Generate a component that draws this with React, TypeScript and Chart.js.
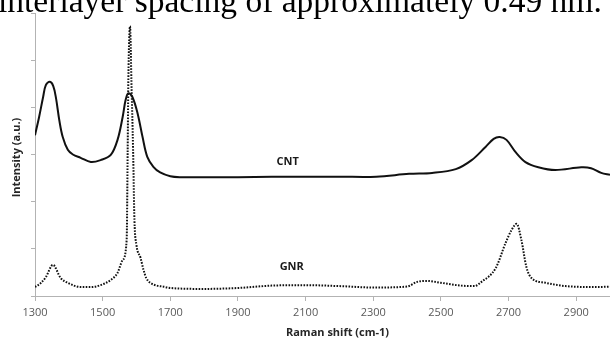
import { useEffect, useRef } from "react";
import { Chart, registerables } from "chart.js";

Chart.register(...registerables);

// Raman shift (cm-1) / intensity (a.u.)
const CNT_X = [1300, 1312, 1324, 1332, 1344, 1354, 1362, 1372, 1382, 1397, 1412, 1435, 1465, 1494, 1524, 1544, 1559, 1568, 1576, 1588, 1603, 1618, 1632, 1650, 1670, 1700, 1729, 1800, 1900, 2000, 2100, 2200, 2309, 2406, 2474, 2544, 2591, 2632, 2656, 2674, 2694, 2721, 2750, 2788, 2838, 2915, 2944, 2974, 3000];
const CNT_Y = [3.41, 3.79, 4.22, 4.47, 4.54, 4.45, 4.2, 3.72, 3.37, 3.1, 3.0, 2.93, 2.84, 2.88, 2.99, 3.31, 3.79, 4.16, 4.3, 4.22, 3.88, 3.37, 2.95, 2.74, 2.62, 2.54, 2.52, 2.52, 2.52, 2.53, 2.53, 2.53, 2.53, 2.59, 2.61, 2.69, 2.88, 3.16, 3.33, 3.37, 3.31, 3.05, 2.84, 2.73, 2.67, 2.73, 2.71, 2.61, 2.57];

const GNR_X = [1300, 1318, 1332, 1353, 1376, 1397, 1435, 1465, 1494, 1524, 1544, 1559, 1571, 1574, 1576, 1581, 1585, 1590, 1594, 1600, 1612, 1621, 1629, 1641, 1685, 1700, 1800, 1900, 2000, 2100, 2200, 2300, 2400, 2430, 2460, 2500, 2560, 2600, 2620, 2662, 2691, 2709, 2724, 2738, 2753, 2768, 2809, 2868, 2965, 3000];
const GNR_Y = [0.19, 0.28, 0.4, 0.66, 0.38, 0.28, 0.19, 0.19, 0.23, 0.34, 0.49, 0.76, 1.19, 3.1, 4.58, 5.72, 4.58, 3.1, 1.61, 1.08, 0.81, 0.55, 0.38, 0.28, 0.19, 0.17, 0.15, 0.17, 0.22, 0.23, 0.21, 0.18, 0.2, 0.3, 0.32, 0.28, 0.22, 0.21, 0.3, 0.59, 1.12, 1.4, 1.53, 1.19, 0.61, 0.38, 0.28, 0.21, 0.19, 0.2];

const X_TICKS = [1300, 1500, 1700, 1900, 2100, 2300, 2500, 2700, 2900];
const X_MIN = 1300;
const X_MAX = 3000;
const Y_MIN = 0;
const Y_MAX = 6;

const SERIES_NAMES = ["CNT", "GNR"];
const LABEL_X = [2047, 2059];
const LABEL_Y = [2.84, 0.61];

const X_TITLE = "Raman shift (cm-1)";
const Y_TITLE = "Intensity (a.u.)";
const CAPTION = "interlayer spacing of approximately 0.49 nm.";

export default function App() {
  const ref = useRef<HTMLCanvasElement | null>(null);

  useEffect(() => {
    const canvas = ref.current;
    if (!canvas) return;

    const textPlugin = {
      id: "textPlugin",
      afterDraw(chart: any) {
        const ctx = chart.ctx;
        const xs = chart.scales.x;
        const ys = chart.scales.y;
        ctx.save();
        ctx.fillStyle = "#1a1a1a";
        ctx.font = 'bold 11px "Open Sans"';
        ctx.textAlign = "center";
        ctx.textBaseline = "middle";
        SERIES_NAMES.forEach((n, i) => {
          ctx.fillText(n, xs.getPixelForValue(LABEL_X[i]), ys.getPixelForValue(LABEL_Y[i]));
        });
        ctx.fillStyle = "#262626";
        ctx.fillText(X_TITLE, (chart.chartArea.left + chart.chartArea.right) / 2 + 15, 333);
        ctx.translate(17, (chart.chartArea.top + chart.chartArea.bottom) / 2 + 3);
        ctx.rotate(-Math.PI / 2);
        ctx.fillText(Y_TITLE, 0, 0);
        ctx.restore();
      },
    };

    const chart = new Chart(canvas, {
      type: "line",
      data: {
        datasets: [
          {
            label: SERIES_NAMES[0],
            data: CNT_X.map((x, i) => ({ x, y: CNT_Y[i] })),
            borderColor: "#111111",
            borderWidth: 2,
            pointRadius: 0,
            tension: 0.35,
            fill: false,
          },
          {
            label: SERIES_NAMES[1],
            data: GNR_X.map((x, i) => ({ x, y: GNR_Y[i] })),
            borderColor: "#111111",
            borderWidth: 2,
            borderDash: [1.6, 1.4],
            pointRadius: 0,
            cubicInterpolationMode: "monotone",
            fill: false,
          },
        ],
      },
      options: {
        animation: false,
        responsive: false,
        devicePixelRatio: 1,
        layout: { padding: { top: 13, left: 0, right: 0, bottom: 0 } },
        plugins: { legend: { display: false }, tooltip: { enabled: false } },
        scales: {
          x: {
            type: "linear",
            min: X_MIN,
            max: X_MAX,
            afterBuildTicks: (s: any) => {
              s.ticks = X_TICKS.map((v) => ({ value: v }));
            },
            afterFit: (s: any) => {
              s.height = 45;
            },
            border: { color: "#b3b3b3", width: 1 },
            grid: { drawOnChartArea: false, drawTicks: true, tickLength: 5, color: "#b3b3b3" },
            ticks: {
              autoSkip: false,
              maxRotation: 0,
              padding: 5,
              color: "#595959",
              font: { family: '"Open Sans"', size: 11 },
              callback: (v: any) => String(v),
            },
          },
          y: {
            type: "linear",
            min: Y_MIN,
            max: Y_MAX,
            afterFit: (s: any) => {
              s.width = 35;
            },
            border: { color: "#b3b3b3", width: 1 },
            grid: { drawOnChartArea: false, drawTicks: true, tickLength: 4, color: "#b3b3b3" },
            ticks: { stepSize: 1, display: false },
          },
        },
      },
      plugins: [textPlugin],
    } as any);

    return () => chart.destroy();
  }, []);

  return (
    <div style={{ position: "fixed", left: 0, top: 0, width: 610, height: 341, overflow: "hidden", background: "#fff" }}>
      <canvas ref={ref} width={610} height={341} style={{ position: "absolute", left: 0, top: 0, width: 610, height: 341 }} />
      <div
        style={{
          position: "absolute",
          left: -2,
          top: -16,
          fontFamily: '"Liberation Serif", serif',
          fontSize: 33.5,
          lineHeight: "33px",
          whiteSpace: "nowrap",
          color: "#000",
        }}
      >
        {CAPTION}
      </div>
    </div>
  );
}
